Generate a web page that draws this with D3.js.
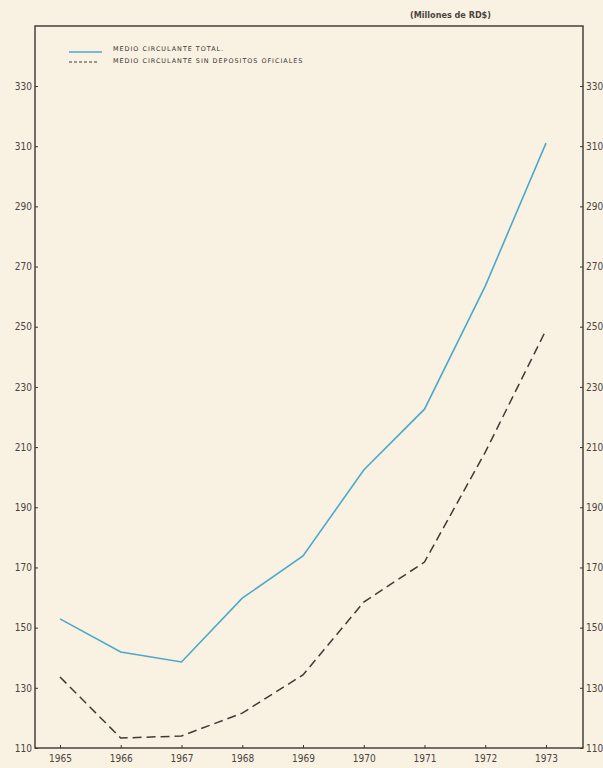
<!DOCTYPE html>
<html>
<head>
<meta charset="utf-8">
<script src="https://cdn.jsdelivr.net/npm/d3@7"></script>
<style>
  html, body { margin: 0; padding: 0; background: #f9f1e1; }
  svg { display: block; }
</style>
</head>
<body>
<svg id="chart" width="603" height="768"></svg>
<script>
// years on the x axis
const years = [1965, 1966, 1967, 1968, 1969, 1970, 1971, 1972, 1973];
// Medio circulante total (millones de RD$)
const total = [152.9, 141.9, 138.6, 159.8, 173.8, 202.4, 222.6, 263.5, 311.0];
// Medio circulante sin depositos oficiales
const sinDepositos = [133.6, 113.3, 114.0, 121.6, 134.3, 158.5, 171.8, 208.3, 248.9];
const yTicks = [110, 130, 150, 170, 190, 210, 230, 250, 270, 290, 310, 330];
const legendLabels = ['MEDIO CIRCULANTE TOTAL.', 'MEDIO CIRCULANTE SIN DEPOSITOS OFICIALES'];

const svg = d3.select('#chart');
const font = '"Liberation Sans Narrow", "DejaVu Sans Condensed", sans-serif';
const ink = '#3a3631';

const frame = { left: 35, right: 583, top: 26, bottom: 748 };

const x = d3.scaleLinear().domain([1965, 1973]).range([60, 546]);
const y = d3.scaleLinear().domain([110, 330]).range([748, 86]);

svg.append('rect')
  .attr('width', 603).attr('height', 768)
  .attr('fill', '#f9f1e1');

// frame
svg.append('rect')
  .attr('x', frame.left).attr('y', frame.top)
  .attr('width', frame.right - frame.left)
  .attr('height', frame.bottom - frame.top)
  .attr('fill', 'none')
  .attr('stroke', ink)
  .attr('stroke-width', 1.4);

// left axis
const left = svg.append('g')
  .attr('transform', `translate(${frame.left},0)`)
  .call(d3.axisRight(y).tickValues(yTicks).tickSize(3).tickFormat(d3.format('d')));
left.select('.domain').remove();
left.selectAll('line').attr('stroke', ink);
left.selectAll('text')
  .attr('x', -3).attr('text-anchor', 'end')
  .attr('font-family', font).attr('font-size', 10).attr('fill', '#4a4540');

// right axis
const right = svg.append('g')
  .attr('transform', `translate(${frame.right},0)`)
  .call(d3.axisLeft(y).tickValues(yTicks).tickSize(3).tickFormat(d3.format('d')));
right.select('.domain').remove();
right.selectAll('line').attr('stroke', ink);
right.selectAll('text')
  .attr('x', 3).attr('text-anchor', 'start')
  .attr('font-family', font).attr('font-size', 10).attr('fill', '#4a4540');

// bottom axis
const bottom = svg.append('g')
  .attr('transform', `translate(0,${frame.bottom})`)
  .call(d3.axisTop(x).tickValues(years).tickSize(3).tickFormat(d3.format('d')));
bottom.select('.domain').remove();
bottom.selectAll('line').attr('stroke', ink);
bottom.selectAll('text')
  .attr('y', 11).attr('dy', '0.32em')
  .attr('font-family', font).attr('font-size', 10).attr('fill', '#4a4540');

const line = d3.line()
  .x((d, i) => x(years[i]))
  .y(d => y(d));

svg.append('path')
  .datum(total)
  .attr('d', line)
  .attr('fill', 'none')
  .attr('stroke', '#4ba9cb')
  .attr('stroke-width', 1.6);

svg.append('path')
  .datum(sinDepositos)
  .attr('d', line)
  .attr('fill', 'none')
  .attr('stroke', '#3f3c38')
  .attr('stroke-width', 1.5)
  .attr('stroke-dasharray', '9,5');

// legend
const legend = svg.append('g').attr('transform', 'translate(69,0)');
legend.append('line')
  .attr('x1', 0).attr('x2', 33).attr('y1', 52).attr('y2', 52)
  .attr('stroke', '#4ba9cb').attr('stroke-width', 1.6);
legend.append('line')
  .attr('x1', 0).attr('x2', 28).attr('y1', 62).attr('y2', 62)
  .attr('stroke', '#3f3c38').attr('stroke-width', 1)
  .attr('stroke-dasharray', '3,2');
legend.selectAll('text.lbl')
  .data(legendLabels)
  .join('text')
  .attr('class', 'lbl')
  .attr('x', 44)
  .attr('y', (d, i) => 49 + i * 12)
  .attr('dy', '0.32em')
  .attr('font-family', '"DejaVu Sans", sans-serif')
  .attr('font-size', 6.4)
  .attr('letter-spacing', 1.0)
  .attr('fill', ink)
  .text(d => d);

// units
svg.append('text')
  .attr('x', 410).attr('y', 15)
  .attr('dy', '0.32em')
  .attr('font-family', font)
  .attr('font-size', 9)
  .attr('font-weight', 'bold')
  .attr('fill', '#4a4540')
  .text('(Millones de RD$)');
</script>
</body>
</html>
